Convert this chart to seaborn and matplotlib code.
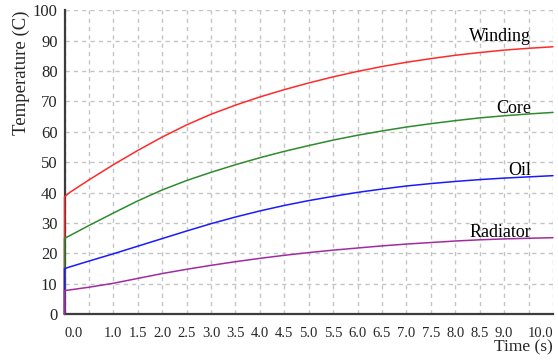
import pandas as pd
import matplotlib
matplotlib.use("Agg")
import matplotlib.pyplot as plt
import seaborn as sns

# time axis (s), first point repeated so every curve rises from 0 at t=0
time = [0.0, 0.0, 0.1, 0.5, 1.0, 1.5, 2.0, 2.5, 3.0, 3.5, 4.0, 4.5, 5.0,
        5.5, 6.0, 6.5, 7.0, 7.5, 8.0, 8.5, 9.0, 9.5, 10.0]

winding = [0, 38.6, 40.0, 44.2, 49.2, 53.9, 58.3, 62.3, 65.8, 68.8, 71.5, 73.9, 76.1,
           78.1, 79.9, 81.5, 82.9, 84.1, 85.2, 86.1, 86.9, 87.5, 88.0]
core = [0, 25.0, 25.8, 29.2, 33.3, 37.3, 40.9, 44.0, 46.7, 49.2, 51.5, 53.6, 55.5,
        57.3, 58.9, 60.3, 61.6, 62.7, 63.7, 64.6, 65.3, 65.9, 66.4]
oil = [0, 15.0, 15.55, 17.5, 19.9, 22.4, 24.9, 27.4, 29.8, 32.0, 34.0, 35.8, 37.4,
       38.8, 40.1, 41.2, 42.2, 43.0, 43.7, 44.3, 44.8, 45.2, 45.6]
radiator = [0, 7.8, 8.0, 8.9, 10.2, 11.8, 13.4, 14.8, 16.1, 17.3, 18.4, 19.4, 20.3,
            21.1, 21.8, 22.5, 23.1, 23.6, 24.1, 24.5, 24.8, 25.0, 25.2]

series_names = ["Winding", "Core", "Oil", "Radiator"]
series_colors = ["#ff2a2a", "#2e8b2e", "#1a1aff", "#a02ca0"]
# label anchor (time, temperature) for the text next to each curve
label_pos = [(9.55, 89.8), (9.55, 66.2), (9.55, 45.9), (9.55, 25.4)]

xticks = [0.0, 0.5, 1.0, 1.5, 2.0, 2.5, 3.0, 3.5, 4.0, 4.5, 5.0,
          5.5, 6.0, 6.5, 7.0, 7.5, 8.0, 8.5, 9.0, 9.5, 10.0]
xtick_labels = ["0.0", "", "1.0", "1.5", "2.0", "2.5", "3.0", "3.5", "4.0", "4.5", "5.0",
                "5.5", "6.0", "6.5", "7.0", "7.5", "8.0", "8.5", "9.0", "", "10.0"]
yticks = [0, 10, 20, 30, 40, 50, 60, 70, 80, 90, 100]

frames = []
for name, vals in zip(series_names, [winding, core, oil, radiator]):
    frames.append(pd.DataFrame({"time": time, "temp": vals, "part": name}))
df = pd.concat(frames, ignore_index=True)

sns.set_style("white")
plt.rcParams["font.family"] = ["Liberation Serif", "DejaVu Serif"]

fig, ax = plt.subplots(figsize=(5.58, 3.61), dpi=100)
fig.subplots_adjust(left=0.1156, right=0.991, bottom=0.1294, top=0.9715)

sns.lineplot(data=df, x="time", y="temp", hue="part", hue_order=series_names,
             palette=series_colors, estimator=None, sort=False, linewidth=1.1,
             legend=False, ax=ax, zorder=3, clip_on=False)

for name, (tx, ty) in zip(series_names, label_pos):
    ax.text(tx, ty, name, ha="right", va="baseline", fontsize=13, color="black", zorder=4)

ax.set_xlim(0, 10)
ax.set_ylim(0, 100)
ax.set_xticks(xticks)
ax.set_xticklabels(xtick_labels, fontsize=10.5)
ax.get_xticklabels()[0].set_ha("left")
ax.get_xticklabels()[-1].set_ha("right")
ax.set_yticks(yticks)
ax.set_yticklabels([str(v) for v in yticks], fontsize=12)

ax.grid(True, linestyle=(0, (3, 3)), color="#c4c4c4", linewidth=1)
ax.set_axisbelow(True)
for side in ["top", "right"]:
    ax.spines[side].set_visible(False)
for side in ["left", "bottom"]:
    ax.spines[side].set_color("#3c3c3c")
    ax.spines[side].set_linewidth(1.6)
ax.tick_params(axis="x", direction="out", length=4, width=1.2, color="#3c3c3c", pad=5.5)
ax.tick_params(axis="y", direction="out", length=4, width=1.2, color="#3c3c3c", pad=1)

ax.set_xlabel("Time (s)", fontsize=12.5, loc="right", labelpad=-0.5)
ax.set_ylabel("Temperature (C)", fontsize=13.5, loc="top", labelpad=2)

fig.savefig("out.png", dpi=100)
